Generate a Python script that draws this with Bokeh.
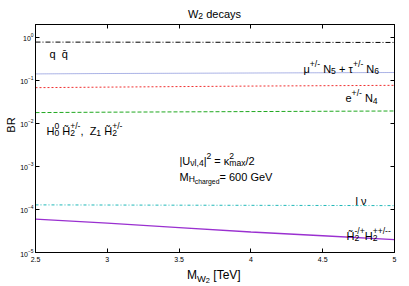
import re
from bokeh.plotting import figure
from bokeh.layouts import column, row
from bokeh.embed import file_html
from bokeh.resources import INLINE
from bokeh.models import (Label, FixedTicker, LinearAxis, LogAxis,
                          CustomJSTickFormatter)

# ---- data ----
m_w2 = [2.5, 3.0, 3.5, 4.0, 4.5, 5.0]
br_qq = [0.78, 0.777, 0.774, 0.771, 0.768, 0.765]
br_mu_tau = [0.142, 0.145, 0.147, 0.149, 0.151, 0.153]
br_e = [0.068, 0.070, 0.072, 0.074, 0.0755, 0.077]
br_h0_z1 = [0.0179, 0.0183, 0.0186, 0.0189, 0.0192, 0.0195]
br_lnu = [1.28e-4, 1.27e-4, 1.26e-4, 1.25e-4, 1.24e-4, 1.23e-4]
br_hh = [6.0e-5, 4.8e-5, 3.8e-5, 3.0e-5, 2.45e-5, 2.0e-5]

x_ticks = [2.5, 3.0, 3.5, 4.0, 4.5, 5.0]
x_tick_labels = ["2.5", "3", "3.5", "4", "4.5", "5"]
y_ticks = [1e-5, 1e-4, 1e-3, 1e-2, 1e-1, 1e0]

FONT = "Liberation Sans"
X0, X1 = 2.5, 5.0
Y0, Y1 = 1e-5, 2.0

# layout geometry (page pixels)
W_TOT, H_TOT = 409, 286
TITLE_H = 20
XLAB_H = 21
MAIN_H = H_TOT - TITLE_H - XLAB_H
BR_W = 17
FRAME_L, FRAME_B = 34, 252


def text_fig(w, h):
    f = figure(width=w, height=h, x_range=(0, w), y_range=(0, h),
               x_axis_location=None, y_axis_location=None,
               output_backend="svg", toolbar_location=None,
               min_border=0, min_border_left=0, min_border_right=0,
               min_border_top=0, min_border_bottom=0)
    f.grid.visible = False
    f.outline_line_color = None
    return f


p = figure(width=W_TOT - BR_W, height=MAIN_H, x_range=(X0, X1),
           y_range=(Y0, Y1), y_axis_type="log", output_backend="svg",
           toolbar_location=None, min_border_left=FRAME_L - BR_W,
           min_border_right=15, min_border_top=4,
           min_border_bottom=TITLE_H + MAIN_H - FRAME_B)
p.grid.visible = False
p.outline_line_color = "black"
p.outline_line_width = 1

for ax in (p.xaxis[0], p.yaxis[0]):
    ax.major_tick_in = 4
    ax.major_tick_out = 0
    ax.minor_tick_line_color = None
    ax.axis_line_color = "black"
    ax.major_tick_line_color = "black"
    ax.major_label_text_font = FONT
    ax.major_label_text_font_size = "7px"
    ax.major_label_text_color = "black"
p.xaxis[0].ticker = FixedTicker(ticks=x_ticks)
p.xaxis[0].major_label_overrides = {t: l for t, l in zip(x_ticks, x_tick_labels)}
p.xaxis[0].major_label_standoff = 4
p.yaxis[0].ticker = FixedTicker(ticks=y_ticks)
p.yaxis[0].major_label_standoff = 2

blank = CustomJSTickFormatter(code="return ''")
top = LinearAxis(ticker=FixedTicker(ticks=x_ticks), formatter=blank,
                 major_tick_in=4, major_tick_out=0, minor_tick_line_color=None,
                 major_label_standoff=0, major_label_text_font_size="0px")
right = LogAxis(ticker=FixedTicker(ticks=y_ticks), formatter=blank,
                major_tick_in=4, major_tick_out=0, minor_tick_line_color=None,
                major_label_standoff=0, major_label_text_font_size="0px")
p.add_layout(top, "above")
p.add_layout(right, "right")

# ---- lines ----
p.line(m_w2, br_qq, line_color="black", line_width=1, line_dash="5 2 1 2")
p.line(m_w2, br_mu_tau, line_color="#5868cc", line_width=1, line_dash="1 1")
p.line(m_w2, br_e, line_color="#f03030", line_width=1, line_dash="2 2")
p.line(m_w2, br_h0_z1, line_color="#20a820", line_width=1, line_dash="4 2")
p.line(m_w2, br_lnu, line_color="#20b8b8", line_width=1, line_dash="3 2 1 2")
p.line(m_w2, br_hh, line_color="#9a30d0", line_width=1.3)

# ---- composite text helper ----
WID = {' ': .278, 'l': .222, 'i': .222, '|': .26, '/': .278, ',': .278,
       '.': .278, '+': .584, '-': .333, '=': .584, 'H': .722, 'N': .722,
       'M': .833, 'U': .722, 'Z': .611, 'G': .778, 'V': .667, 'T': .611,
       'W': .944, 'r': .333, 'm': .833, 'x': .5, 'c': .5, 'y': .5, 's': .5,
       'v': .5, 'ν': .5, 'κ': .5, 'τ': .42, 'μ': .576, '[': .278, ']': .278,
       '\u0303': 0.0, '\u0304': 0.0}
SCALE = {0: 1.0, 1: 0.78, -1: 0.78, -2: 0.62}


def width(s, size):
    return sum(WID.get(ch, .556) for ch in s) * size


def rich(fig, ax, ay, px0, py0, segs, size=11, align="left"):
    """Place text segments; (ax, ay) data anchor, (px0, py0) pixel offset
    of the baseline start (py0 upwards). segs: (text, level[, advance])."""
    total = 0.0
    pending = 0.0
    items = []
    for seg in segs:
        txt, lvl = seg[0], seg[1]
        adv = seg[2] if len(seg) > 2 else True
        fs = size * SCALE[lvl]
        dy = {0: 0, 1: size * 0.42, -1: -size * 0.25, -2: -size * 0.45}[lvl]
        cur = total
        for tok in re.findall(r"\s+|\S+", txt):
            if not tok.isspace():
                items.append((tok, cur, dy, fs))
            cur += width(tok, fs)
        if adv:
            total = max(cur, total + pending)
            pending = 0.0
        else:
            pending = cur - total
    shift = 0 if align == "left" else (-total / 2 if align == "center" else -total)
    for tok, dx, dy, fs in items:
        fig.add_layout(Label(x=ax, y=ay, x_offset=px0 + dx + shift,
                             y_offset=py0 + dy, text=tok,
                             text_font=FONT, text_font_size=f"{fs:.1f}px",
                             text_baseline="alphabetic", text_align="left",
                             text_color="black"))


def plot_label(px, py, segs, size=11):
    rich(p, X0, Y0, px - FRAME_L, FRAME_B - py, segs, size=size)


plot_label(48, 53, [("q  q\u0304", 0)])
plot_label(302, 68, [("μ", 0), ("+/-", 1), (" N", 0), ("5", -1), (" + τ", 0),
                     ("+/-", 1), (" N", 0), ("6", -1)])
plot_label(344, 97.5, [("e", 0), ("+/-", 1), (" N", 0), ("4", -1)])
plot_label(45, 130, [("H", 0), ("0", 1, False), ("0", -1), (" H\u0303", 0),
                     ("+/-", 1, False), ("2", -1), (",  Z", 0), ("1", -1),
                     (" H\u0303", 0), ("+/-", 1, False), ("2", -1)])
plot_label(178, 160, [("|U", 0), ("νl,4", -1), ("|", 0), ("2", 1), (" = κ", 0),
                      ("2", 1, False), ("max", -1), ("/2", 0)])
plot_label(178, 176, [("M", 0), ("H", -1), ("charged", -2), ("= 600 GeV", 0)])
plot_label(354, 200, [("l ν", 0)])
plot_label(345, 235, [("H\u0303", 0), ("-/+", 1, False), ("2", -1), ("H", 0),
                      ("++/--", 1, False), ("2", -1)])

# title
tf = text_fig(W_TOT, TITLE_H)
rich(tf, 214, TITLE_H - 13, 0, 0, [("W", 0), ("2", -1), (" decays", 0)],
     size=11, align="center")

# x-axis title (baseline at page y 274.5)
xf = text_fig(W_TOT, XLAB_H)
rich(xf, 214, H_TOT - 274.5, 0, 0,
     [("M", 0), ("W", -1), ("2", -2), (" [TeV]", 0)], size=12, align="center")

# y-axis title (centred at page y 128)
yf = text_fig(BR_W, MAIN_H)
yf.add_layout(Label(x=10.5, y=TITLE_H + MAIN_H - 128,
                    text="BR", angle=1.5708, text_font=FONT,
                    text_font_size="11px", text_align="center",
                    text_baseline="middle", text_color="black"))

layout = column(tf, row(yf, p, spacing=0), xf, spacing=0)
open("out.html", "w").write(file_html(layout, INLINE))
